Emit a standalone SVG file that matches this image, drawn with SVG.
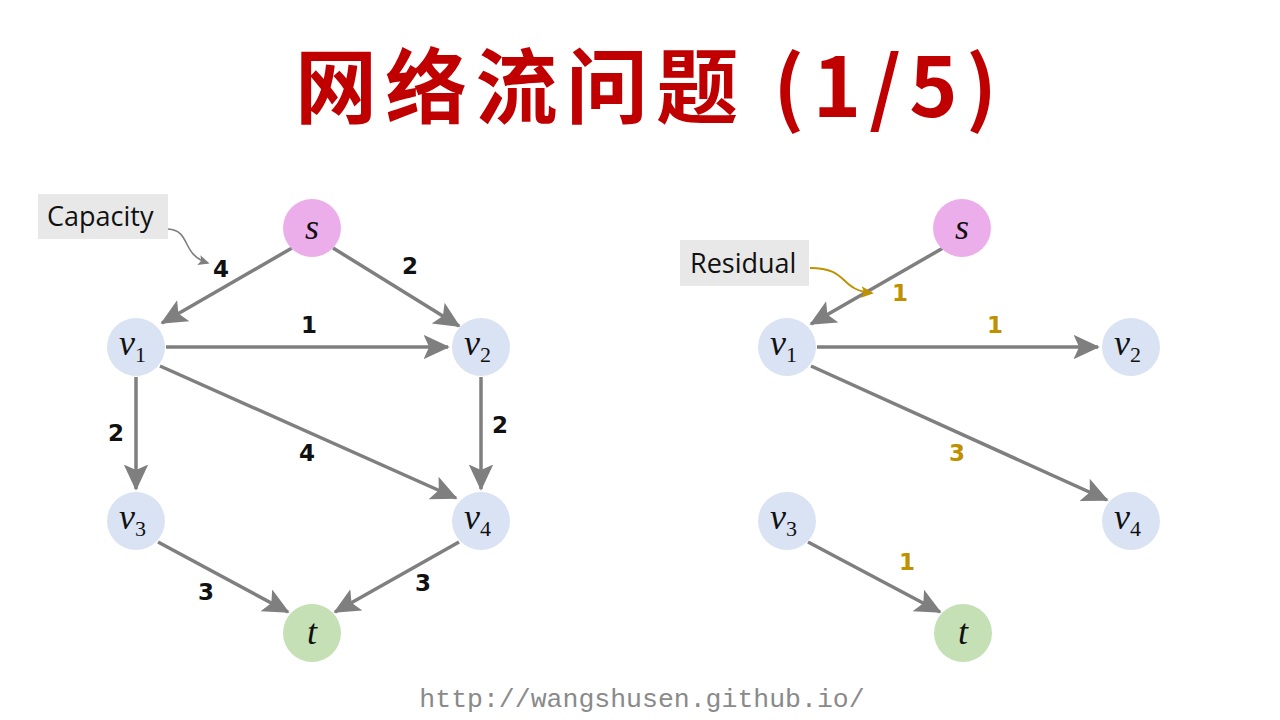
<svg xmlns="http://www.w3.org/2000/svg" width="1280" height="720" viewBox="0 0 1280 720">
<style>
.e{stroke:#7f7f7f;stroke-width:3.5;fill:none;marker-end:url(#ah)}
.v{fill:#dae3f3}
.s{fill:#ecaeea}
.t{fill:#c5e0b4}
.nl{font-family:"Liberation Serif",serif;font-style:italic;font-size:36px;fill:#111}
.sub{font-family:"Liberation Serif",serif;font-size:22px;font-style:normal}
.el{font-family:"DejaVu Sans",sans-serif;font-weight:bold;font-size:23px;fill:#111;text-anchor:middle}
.gl{fill:#bf9000}
.box{fill:#e8e8e8}
.bt{font-family:"Open Sans","Liberation Sans",sans-serif;font-size:27px;fill:#111}
</style>
<defs>
<marker id="ah" markerWidth="8" markerHeight="8" refX="7" refY="4" orient="auto" markerUnits="strokeWidth">
<path d="M0,0.5 L7.5,4 L0,7.5 L1.6,4 Z" fill="#7f7f7f"/>
</marker>
<marker id="ahs" markerWidth="8" markerHeight="8" refX="6" refY="4" orient="auto" markerUnits="strokeWidth">
<path d="M0,0.8 L7,4 L0,7.2 L1.5,4 Z" fill="#7f7f7f"/>
</marker>
<marker id="ahg" markerWidth="8" markerHeight="8" refX="6" refY="4" orient="auto" markerUnits="strokeWidth">
<path d="M0,0.8 L7,4 L0,7.2 L1.5,4 Z" fill="#bf9000"/>
</marker>
</defs>
<rect width="1280" height="720" fill="#fff"/>
<text x="295" y="117" textLength="702" lengthAdjust="spacing" font-family="Noto Sans CJK SC, sans-serif" font-weight="bold" font-size="82" fill="#c00000">网络流问题 (1/5)</text>

<g id="connectors">
<line class="e" x1="292" y1="248" x2="162" y2="323"/>
<line class="e" x1="333" y1="248" x2="459" y2="326"/>
<line class="e" x1="166" y1="347" x2="448" y2="347"/>
<line class="e" x1="136" y1="377" x2="136" y2="489"/>
<line class="e" x1="481" y1="377" x2="481" y2="489"/>
<line class="e" x1="160" y1="366" x2="456" y2="498"/>
<line class="e" x1="158" y1="542" x2="288" y2="612"/>
<line class="e" x1="459" y1="542" x2="335" y2="612"/>
<path d="M168,229 C192,231 180,254 208,263" stroke="#7f7f7f" stroke-width="1.6" fill="none" marker-end="url(#ahs)"/>

<line class="e" x1="943" y1="248" x2="811" y2="324"/>
<line class="e" x1="817" y1="347" x2="1098" y2="347"/>
<line class="e" x1="811" y1="366" x2="1107" y2="500"/>
<line class="e" x1="808" y1="542" x2="940" y2="612"/>
<path d="M810,268 C850,268 838,290 872,293" stroke="#bf9000" stroke-width="1.8" fill="none" marker-end="url(#ahg)"/>
</g>

<g id="labels">
<text class="el" x="221" y="277">4</text>
<text class="el" x="410" y="274">2</text>
<text class="el" x="309" y="333">1</text>
<text class="el" x="116" y="441">2</text>
<text class="el" x="307" y="461">4</text>
<text class="el" x="500" y="433">2</text>
<text class="el" x="206" y="600">3</text>
<text class="el" x="423" y="591">3</text>
<text class="el gl" x="900" y="301">1</text>
<text class="el gl" x="995" y="333">1</text>
<text class="el gl" x="957" y="461">3</text>
<text class="el gl" x="907" y="570">1</text>
</g>

<g id="capacity"><rect class="box" x="38" y="194" width="130" height="45"/><text class="bt" x="47" y="226">Capacity</text></g>
<g id="residual"><rect class="box" x="680" y="240" width="129" height="46"/><text class="bt" x="690" y="273">Residual</text></g>

<g id="L_s"><circle class="s" cx="312" cy="228" r="29"/><text class="nl" x="312" y="239" text-anchor="middle">s</text></g>
<g id="L_v1"><circle class="v" cx="136" cy="347" r="29"/><text class="nl" x="119" y="355">v<tspan class="sub" dy="7">1</tspan></text></g>
<g id="L_v2"><circle class="v" cx="481" cy="347" r="29"/><text class="nl" x="464" y="355">v<tspan class="sub" dy="7">2</tspan></text></g>
<g id="L_v3"><circle class="v" cx="136" cy="521" r="29"/><text class="nl" x="119" y="529">v<tspan class="sub" dy="7">3</tspan></text></g>
<g id="L_v4"><circle class="v" cx="481" cy="521" r="29"/><text class="nl" x="464" y="529">v<tspan class="sub" dy="7">4</tspan></text></g>
<g id="L_t"><circle class="t" cx="312" cy="633" r="29"/><text class="nl" x="312" y="644" text-anchor="middle">t</text></g>

<g id="R_s"><circle class="s" cx="962" cy="228" r="29"/><text class="nl" x="962" y="239" text-anchor="middle">s</text></g>
<g id="R_v1"><circle class="v" cx="787" cy="347" r="29"/><text class="nl" x="770" y="355">v<tspan class="sub" dy="7">1</tspan></text></g>
<g id="R_v2"><circle class="v" cx="1131" cy="347" r="29"/><text class="nl" x="1114" y="355">v<tspan class="sub" dy="7">2</tspan></text></g>
<g id="R_v3"><circle class="v" cx="787" cy="521" r="29"/><text class="nl" x="770" y="529">v<tspan class="sub" dy="7">3</tspan></text></g>
<g id="R_v4"><circle class="v" cx="1131" cy="521" r="29"/><text class="nl" x="1114" y="529">v<tspan class="sub" dy="7">4</tspan></text></g>
<g id="R_t"><circle class="t" cx="963" cy="633" r="29"/><text class="nl" x="963" y="644" text-anchor="middle">t</text></g>

<text x="642" y="707" text-anchor="middle" font-family="Liberation Mono, monospace" font-size="26.5" fill="#8a8a8a">http://wangshusen.github.io/</text>
</svg>
